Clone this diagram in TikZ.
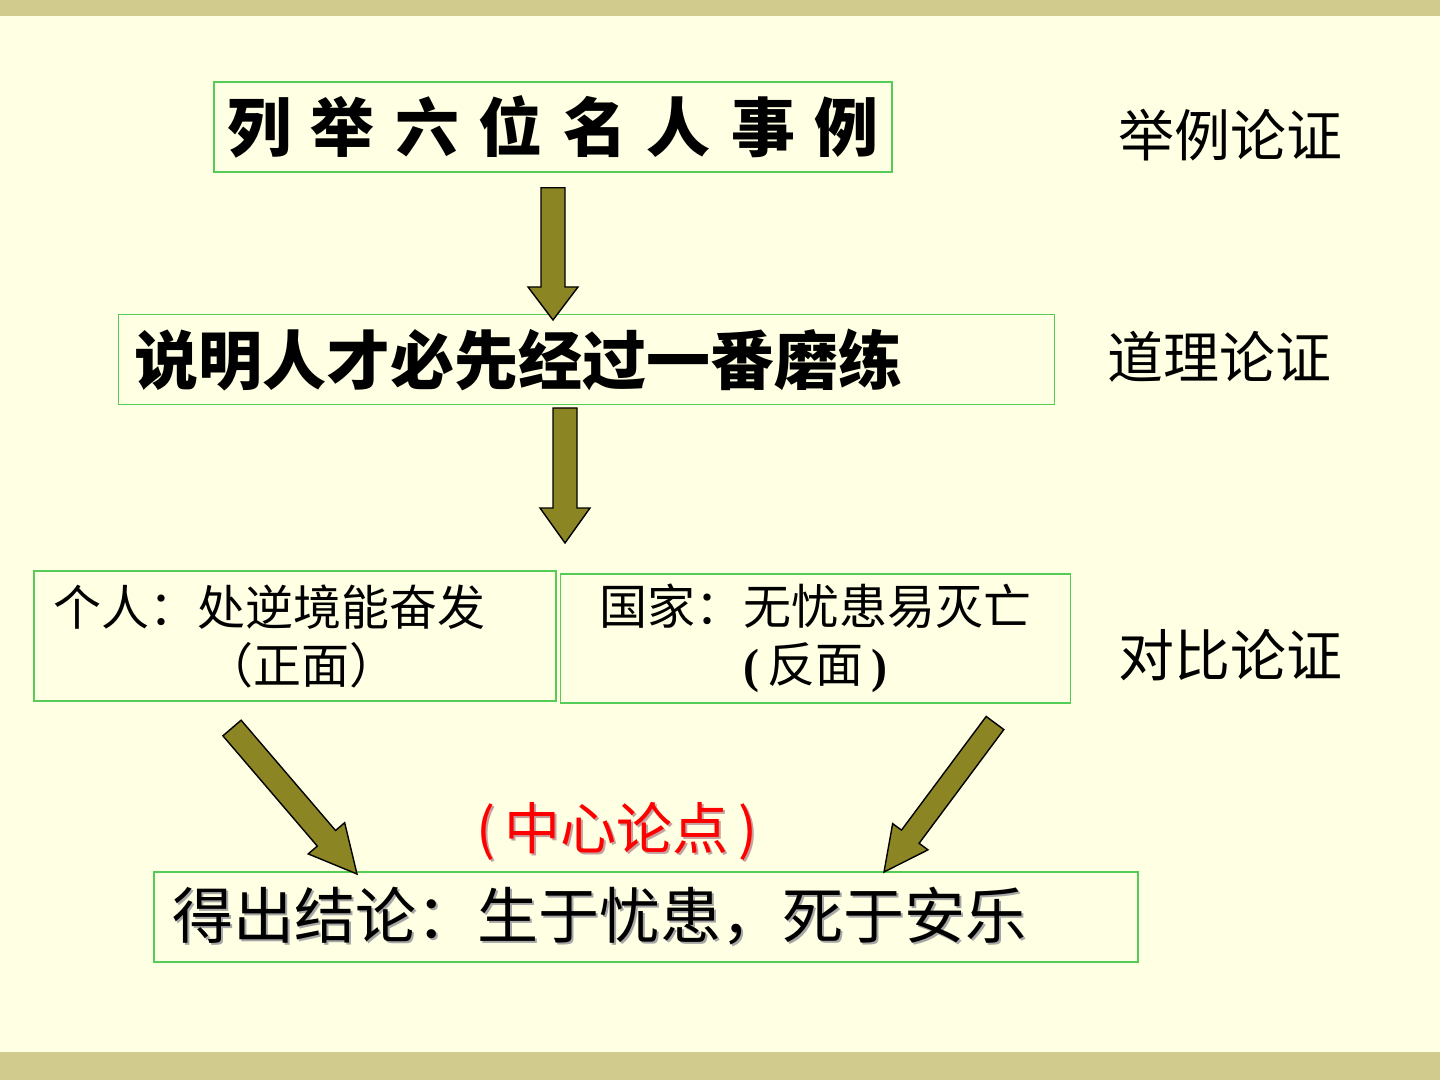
\documentclass[tikz,border=0pt]{standalone}
\usepackage{fontspec}
\setmainfont{Noto Sans CJK SC}
\newfontfamily\tnr{Liberation Serif}
\usepackage{tikz}
\usetikzlibrary{calc,positioning}
\usepackage{xcolor}

\definecolor{slidebg}{HTML}{FFFFE3}
\definecolor{slidebar}{HTML}{D1CB8E}
\definecolor{boxgreen}{HTML}{55CC55}
\definecolor{arrowolive}{HTML}{8C8523}

% text with a small drop shadow
\newcommand{\shadowtext}[2][gray!70]{\rlap{\color{#1}\kern1pt\raisebox{-1pt}{#2}}#2}
% fat block arrow from #1 to #2: shaft half width, head half width, head length
\newcommand{\fatarrow}[5]{%
  \coordinate (hb) at ($(#2)!#5!(#1)$);
  \draw[fatarrow] ($(#1)!#3!90:(#2)$) -- ($(hb)!#3!-90:(#1)$) -- ($(hb)!#4!-90:(#1)$)
    -- (#2) -- ($(hb)!#4!90:(#1)$) -- ($(hb)!#3!90:(#1)$) -- ($(#1)!#3!-90:(#2)$) -- cycle;}

\tikzset{
  greenbox/.style={draw=boxgreen, line width=0.75pt, inner ysep=0pt, minimum height=45pt},
  fatarrow/.style={fill=arrowolive, draw=black, line width=0.7pt, line join=miter},
  sidelabel/.style={font=\fontsize{28}{32}\selectfont},
  boxtext/.style={font=\fontsize{24}{29}\selectfont},
}

\begin{document}
\begin{tikzpicture}[x=0.5pt,y=-0.5pt]
% slide background
\fill[slidebg] (0,0) rectangle (1440,1080);
\fill[slidebar] (0,0) rectangle (1440,16);
\fill[slidebar] (0,1052) rectangle (1440,1080);

% boxes
\node[greenbox, minimum width=339pt, font=\bfseries\fontsize{32}{36}\selectfont] (examples) at (553,127)
  {列\hspace{10pt}举\hspace{10pt}六\hspace{10pt}位\hspace{10pt}名\hspace{10pt}人\hspace{10pt}事\hspace{10pt}例};
\node[greenbox, text width=452pt, inner xsep=8pt, align=left, font=\bfseries\fontsize{32}{36}\selectfont] (reason) at (586.5,359.5)
  {说明人才必先经过一番磨练};
\node[greenbox, boxtext, text width=241pt, inner xsep=10pt, minimum height=65pt, align=left] (personal) at (295,636)
  {个人：处逆境能奋发\\\hspace*{76pt}\makebox[24pt][r]{（}正面\makebox[24pt][l]{）}};
\node[greenbox, boxtext, text width=235pt, inner xsep=10pt, minimum height=64.5pt, align=center] (nation) at (815.5,638.5)
  {国家：无忧患易灭亡\\{\tnr\bfseries (}\,反面\,{\tnr\bfseries )}};
\node[greenbox, text width=474pt, inner xsep=9pt, align=left, font=\fontsize{30.5}{34}\selectfont] (conclusion) at (646,917)
  {\shadowtext{得出结论：生于忧患，死于安乐}};
\node[font=\fontsize{28}{32}\selectfont, text=red] (thesis) at (617,832) {\shadowtext[red!25!gray!60]{(\,中心论点\,)}};

% kinds of argument
\node[sidelabel] (example) at (1230,135) {举例论证};
\node[sidelabel] (logic) at (1219,357) {道理论证};
\node[sidelabel] (contrast) at (1230,655) {对比论证};

% arrows
\coordinate (a1s) at ($(examples.south)+(0,15)$);
\coordinate (a1e) at (553,320);
\coordinate (a2s) at (565,408);
\coordinate (a2e) at (565,543);
\coordinate (a3s) at (232,728);
\coordinate (a3e) at (357,874);
\coordinate (a4s) at (995,723);
\coordinate (a4e) at (884,872);
\fatarrow{a1s}{a1e}{6pt}{12.5pt}{16.5pt}
\fatarrow{a2s}{a2e}{6pt}{12.5pt}{17.5pt}
\fatarrow{a3s}{a3e}{6pt}{12pt}{23.5pt}
\fatarrow{a4s}{a4e}{5.5pt}{11pt}{22pt}
\end{tikzpicture}
\end{document}
